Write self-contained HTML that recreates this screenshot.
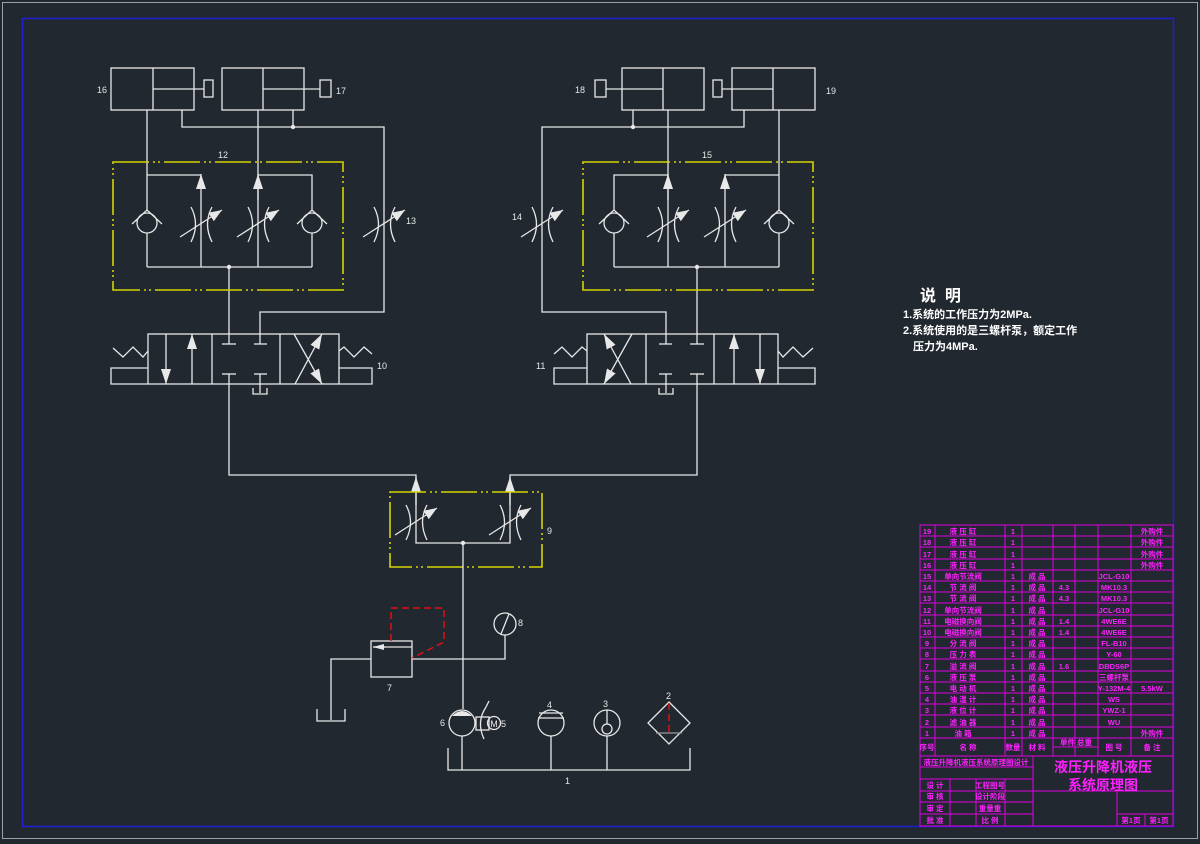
<!DOCTYPE html>
<html><head><meta charset="utf-8"><style>
html,body{margin:0;padding:0;background:#212830;}
svg{display:block}
text{font-family:"Liberation Sans","Noto Sans CJK SC",sans-serif}
</style></head><body>
<svg width="1200" height="844" viewBox="0 0 1200 844" xmlns="http://www.w3.org/2000/svg">
<defs>
<marker id="ah" markerUnits="userSpaceOnUse" markerWidth="14" markerHeight="10" refX="13" refY="5" orient="auto"><path d="M0,0 L13,5 L0,10 z" fill="#e8e8e8"/></marker>
<marker id="ab" markerUnits="userSpaceOnUse" markerWidth="16" markerHeight="10" refX="15" refY="5" orient="auto"><path d="M0,0 L15,5 L0,10 z" fill="#e8e8e8"/></marker>
<marker id="as" markerUnits="userSpaceOnUse" markerWidth="12" markerHeight="6" refX="11" refY="3" orient="auto"><path d="M0,0 L11,3 L0,6 z" fill="#e8e8e8"/></marker>
<g id="thr" fill="none" stroke="#e8e8e8" stroke-width="1.3">
<path d="M-10,-17 Q-1,0 -10,18"/><path d="M11,-17 Q2,0 11,18"/>
<line x1="-21" y1="13" x2="21" y2="-14" marker-end="url(#ah)"/>
</g>
<g id="chk" fill="none" stroke="#e8e8e8" stroke-width="1.3">
<circle cx="0" cy="0" r="10"/><path d="M-15,1 L0,-13 L15,1"/>
</g>
</defs>
<rect width="1200" height="844" fill="#212830"/>
<rect x="2.5" y="2.5" width="1195" height="836" fill="none" stroke="#9aa0a6" stroke-width="1"/>
<rect x="22.5" y="18.5" width="1151" height="808" fill="none" stroke="#2020d0" stroke-width="1.5"/>

<g id="L" fill="none" stroke="#e8e8e8" stroke-width="1.3">
<rect x="111" y="68" width="83" height="42"/><line x1="153" y1="68" x2="153" y2="110"/><line x1="153" y1="89" x2="204" y2="89"/><rect x="204" y="80" width="9" height="17"/>
<rect x="222" y="68" width="82" height="42"/><line x1="263" y1="68" x2="263" y2="110"/><line x1="263" y1="89" x2="320" y2="89"/><rect x="320" y="80" width="11" height="17"/>
<line x1="147" y1="110" x2="147" y2="210"/><line x1="147" y1="233" x2="147" y2="267"/>
<use href="#chk" x="147" y="223"/>
<line x1="147" y1="175" x2="201" y2="175"/>
<line x1="201" y1="267" x2="201" y2="174" marker-end="url(#ab)"/>
<line x1="258" y1="110" x2="258" y2="267"/>
<line x1="258" y1="200" x2="258" y2="174" marker-end="url(#ab)"/>
<polyline points="258,175 312,175 312,210"/><line x1="312" y1="233" x2="312" y2="267"/>
<use href="#chk" x="312" y="223"/>
<line x1="147" y1="267" x2="312" y2="267"/>
<line x1="229" y1="267" x2="229" y2="344"/>
<polyline points="182,110 182,127 384,127 384,312 260,312 260,344"/>
<line x1="293" y1="127" x2="293" y2="110"/>
<rect x="148" y="334" width="191" height="50"/><line x1="212" y1="334" x2="212" y2="384"/><line x1="280" y1="334" x2="280" y2="384"/>
<polyline points="148,368 111,368 111,384 148,384"/><polyline points="339,368 372,368 372,384 339,384"/>
<polyline points="113,348 123,357 133,347 143,357 148,351"/>
<polyline points="339,351 344,347 354,357 364,347 372,354"/>
<line x1="166" y1="334" x2="166" y2="384" marker-end="url(#ab)"/>
<line x1="192" y1="384" x2="192" y2="334" marker-end="url(#ab)"/>
<line x1="222" y1="344" x2="236" y2="344"/><line x1="254" y1="344" x2="267" y2="344"/>
<line x1="222" y1="374" x2="236" y2="374"/><line x1="254" y1="374" x2="267" y2="374"/>
<line x1="260" y1="374" x2="260" y2="393"/><polyline points="253,388 253,394 267,394 267,388"/>
<line x1="294" y1="334" x2="322" y2="384" marker-end="url(#ab)"/>
<line x1="295" y1="384" x2="322" y2="334" marker-end="url(#ab)"/>
<polyline points="229,374 229,475 416,475 416,543 463,543"/>
<line x1="416" y1="505" x2="416" y2="477" marker-end="url(#ab)"/>
</g>
<g fill="#e8e8e8"><circle cx="229" cy="267" r="2.2"/><circle cx="293" cy="127" r="2.2"/></g>
<use href="#L" transform="matrix(-1 0 0 1 926 0)"/>
<g fill="#e8e8e8"><circle cx="697" cy="267" r="2.2"/><circle cx="633" cy="127" r="2.2"/><circle cx="463" cy="543" r="2.2"/></g>
<use href="#thr" x="201" y="224"/><use href="#thr" x="258" y="224"/><use href="#thr" x="384" y="224"/>
<use href="#thr" x="668" y="224"/><use href="#thr" x="725" y="224"/><use href="#thr" x="542" y="224"/>
<use href="#thr" x="416" y="522"/><use href="#thr" x="510" y="522"/>

<g fill="none" stroke="#d4d400" stroke-width="1.6" stroke-dasharray="36 4 2 3 2 4">
<rect x="113" y="162" width="230" height="128"/>
<rect x="583" y="162" width="230" height="128"/>
<rect x="390" y="492" width="152" height="75"/>
</g>

<g fill="none" stroke="#e8e8e8" stroke-width="1.3">
<line x1="463" y1="543" x2="463" y2="709"/>
<rect x="371" y="641" width="41" height="36"/>
<line x1="374" y1="647" x2="412" y2="647"/>
<line x1="385" y1="647" x2="373" y2="647" marker-end="url(#as)"/>
<polyline points="371,659 331,659 331,720"/>
<polyline points="317,709 317,721 345,721 345,709"/>
<polyline points="412,659 505,659 505,635"/>
<circle cx="505" cy="624" r="11"/><line x1="501" y1="634" x2="509" y2="614"/>
<circle cx="462" cy="723" r="13"/>
<rect x="476" y="717" width="13" height="13"/>
<circle cx="494" cy="723" r="6.5"/>
<path d="M486,707 Q476,722 484,739"/>
<line x1="486" y1="707" x2="489" y2="701" />
<circle cx="551" cy="723" r="13"/><line x1="539" y1="713" x2="563" y2="713"/><line x1="538" y1="718" x2="564" y2="718"/>
<circle cx="607" cy="723" r="13"/><circle cx="607" cy="729" r="5"/><line x1="607" y1="710" x2="607" y2="724"/>
<polygon points="669,702 690,723 669,744 648,723"/>
<line x1="656" y1="733" x2="682" y2="733" stroke="#999"/>
<polyline points="448,748 448,770 690,770 690,748"/>
<line x1="462" y1="736" x2="462" y2="770"/><line x1="551" y1="736" x2="551" y2="770"/><line x1="607" y1="736" x2="607" y2="770"/>
</g>
<path d="M452,716 Q462,706 472,716 z" fill="#e8e8e8"/>
<text x="494" y="727" font-size="9" fill="#e8e8e8" text-anchor="middle">M</text>
<g fill="none" stroke="#e01010" stroke-width="1.5" stroke-dasharray="7 4">
<polyline points="391,641 391,608 444,608 444,642 412,658"/>
<line x1="669" y1="703" x2="669" y2="733"/>
</g>

<g fill="#e8e8e8" font-size="9">
<text x="97" y="93">16</text><text x="336" y="94">17</text><text x="575" y="93">18</text><text x="826" y="94">19</text>
<text x="218" y="158">12</text><text x="702" y="158">15</text>
<text x="406" y="224">13</text><text x="512" y="220">14</text>
<text x="377" y="369">10</text><text x="536" y="369">11</text>
<text x="547" y="534">9</text><text x="518" y="626">8</text><text x="387" y="691">7</text>
<text x="440" y="726">6</text><text x="501" y="727">5</text><text x="547" y="708">4</text><text x="603" y="707">3</text><text x="666" y="699">2</text><text x="565" y="784">1</text>
</g>
<g fill="#ffffff" font-family="'Liberation Serif','Noto Serif CJK SC',serif" font-weight="bold">
<text x="920" y="301" font-size="16">说&#160;&#160;明</text>
<text x="903" y="318" font-size="11">1.系统的工作压力为2MPa.</text>
<text x="903" y="334" font-size="11">2.系统使用的是三螺杆泵，额定工作</text>
<text x="913" y="350" font-size="11">压力为4MPa.</text>
</g>

<g stroke="#e000e0" stroke-width="1" fill="none">
<rect x="920" y="525" width="253" height="301"/>
<path d="M920,536H1173M920,547H1173M920,559H1173M920,570H1173M920,581H1173M920,592H1173M920,603H1173M920,615H1173M920,626H1173M920,637H1173M920,648H1173M920,659H1173M920,671H1173M920,682H1173M920,693H1173M920,704H1173M920,715H1173M920,727H1173M920,738H1173"/>
<path d="M935,525V756M1005,525V756M1022,525V756M1053,525V756M1075,525V756M1098,525V756M1131,525V756M1053,747H1098"/>
<path d="M920,756H1173M1033,756V826M920,767H1033M920,779H1033M920,791H1173M920,802H1033M920,814H1033M1117,791V826M1117,814H1173M1145,814V826M950,779V826M976,779V826M1005,779V826"/>
</g>
<g fill="#ff20ff" font-size="7.5" font-weight="bold" text-anchor="middle">
<text x="963" y="534">液 压 缸</text><text x="963" y="545">液 压 缸</text><text x="963" y="557">液 压 缸</text><text x="963" y="568">液 压 缸</text>
<text x="963" y="579">单向节流阀</text><text x="963" y="590">节 流 阀</text><text x="963" y="601">节 流 阀</text><text x="963" y="613">单向节流阀</text>
<text x="963" y="624">电磁换向阀</text><text x="963" y="635">电磁换向阀</text><text x="963" y="646">分 流 阀</text><text x="963" y="657">压 力 表</text>
<text x="963" y="669">溢 流 阀</text><text x="963" y="680">液 压 泵</text><text x="963" y="691">电 动 机</text><text x="963" y="702">油 温 计</text>
<text x="963" y="713">液 位 计</text><text x="963" y="725">滤 油 器</text><text x="963" y="736">油  箱</text>
<text x="1152" y="534">外购件</text><text x="1152" y="545">外购件</text><text x="1152" y="557">外购件</text><text x="1152" y="568">外购件</text><text x="1152" y="736">外购件</text>
<text x="927" y="750">序号</text><text x="968" y="750">名 称</text><text x="1013" y="750">数量</text><text x="1037" y="750">材 料</text><text x="1076" y="745">单件 总重</text><text x="1114" y="750">图 号</text><text x="1152" y="750">备 注</text>
<text x="976" y="765">液压升降机液压系统原理图设计</text>
<text x="935" y="788">设 计</text><text x="935" y="799">审 核</text><text x="935" y="811">审 定</text><text x="935" y="823">批 准</text>
<text x="990" y="788">工程图号</text><text x="990" y="799">设计阶段</text><text x="990" y="811">重量重</text><text x="990" y="823">比 例</text>
<text x="1131" y="823">第1页</text><text x="1159" y="823">第1页</text>
</g>
<g fill="#ff20ff" font-size="7.5" font-weight="bold" text-anchor="middle">
<text x="1013" y="534">1</text><text x="1013" y="545">1</text><text x="1013" y="557">1</text><text x="1013" y="568">1</text><text x="1013" y="579">1</text><text x="1013" y="590">1</text><text x="1013" y="601">1</text><text x="1013" y="613">1</text><text x="1013" y="624">1</text><text x="1013" y="635">1</text><text x="1013" y="646">1</text><text x="1013" y="657">1</text><text x="1013" y="669">1</text><text x="1013" y="680">1</text><text x="1013" y="691">1</text><text x="1013" y="702">1</text><text x="1013" y="713">1</text><text x="1013" y="725">1</text><text x="1013" y="736">1</text>
<text x="1037" y="579">成 品</text><text x="1037" y="590">成 品</text><text x="1037" y="601">成 品</text><text x="1037" y="613">成 品</text><text x="1037" y="624">成 品</text><text x="1037" y="635">成 品</text><text x="1037" y="646">成 品</text><text x="1037" y="657">成 品</text><text x="1037" y="669">成 品</text><text x="1037" y="680">成 品</text><text x="1037" y="691">成 品</text><text x="1037" y="702">成 品</text><text x="1037" y="713">成 品</text><text x="1037" y="725">成 品</text><text x="1037" y="736">成 品</text>
<text x="1064" y="590">4.3</text><text x="1064" y="601">4.3</text><text x="1064" y="624">1.4</text><text x="1064" y="635">1.4</text><text x="1064" y="669">1.6</text>
<text x="1114" y="579">JCL-G10</text><text x="1114" y="590">MK10.3</text><text x="1114" y="601">MK10.3</text><text x="1114" y="613">JCL-G10</text><text x="1114" y="624">4WE6E</text><text x="1114" y="635">4WE6E</text><text x="1114" y="646">FL-B10</text><text x="1114" y="657">Y-60</text><text x="1114" y="669">DBDS6P</text><text x="1114" y="680">三螺杆泵</text><text x="1114" y="691">Y-132M-4</text><text x="1152" y="691">5.5kW</text><text x="1114" y="702">WS</text><text x="1114" y="713">YWZ-1</text><text x="1114" y="725">WU</text>
<text x="927" y="534">19</text><text x="927" y="545">18</text><text x="927" y="557">17</text><text x="927" y="568">16</text><text x="927" y="579">15</text><text x="927" y="590">14</text><text x="927" y="601">13</text><text x="927" y="613">12</text><text x="927" y="624">11</text><text x="927" y="635">10</text><text x="927" y="646">9</text><text x="927" y="657">8</text><text x="927" y="669">7</text><text x="927" y="680">6</text><text x="927" y="691">5</text><text x="927" y="702">4</text><text x="927" y="713">3</text><text x="927" y="725">2</text><text x="927" y="736">1</text>
</g>
<g fill="#ff20ff" font-size="14" text-anchor="middle" font-weight="bold">
<text x="1103" y="772">液压升降机液压</text><text x="1103" y="790">系统原理图</text>
</g>
</svg>
</body></html>
